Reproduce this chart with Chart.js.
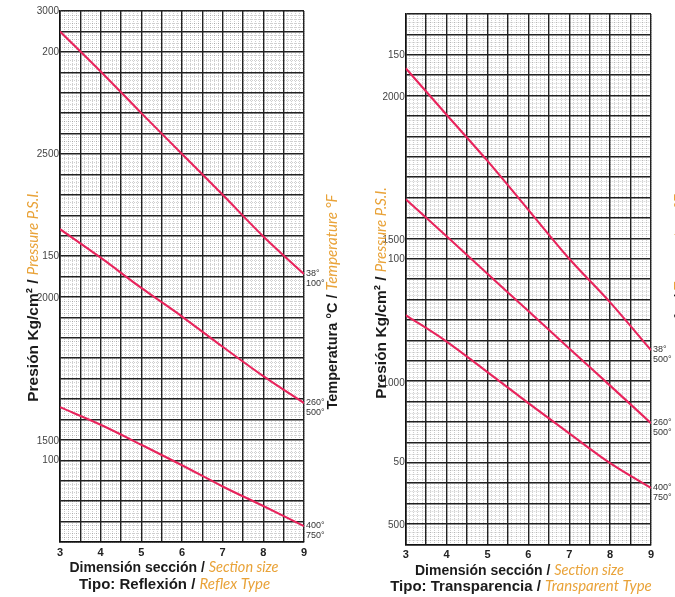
<!DOCTYPE html>
<html><head><meta charset="utf-8">
<script src="https://cdn.jsdelivr.net/npm/chart.js@4.4.1/dist/chart.umd.min.js"></script>
<style>
html,body{margin:0;padding:0;background:#fff;overflow:hidden;width:675px;height:597px;}
#c1{position:absolute;left:0;top:0;}
#c2{position:absolute;left:340px;top:0;}
</style></head><body>
<canvas id="c1" width="340" height="597"></canvas>
<canvas id="c2" width="350" height="597"></canvas>
<script>
// ---------- DATA ----------
const sectionSizes = [3, 4, 5, 6, 7, 8, 9];
const xRange = [3, 9];

// Reflex type (kg/cm²)
const reflex38  = [205, 195.2, 185, 175, 165, 154.8, 145.6];
const reflex260 = [156.6, 149.6, 142.2, 135.2, 127.8, 120.6, 114];
const reflex400 = [113, 108.7, 103.8, 98.8, 93.6, 88.8, 83.9];
const reflexEndLabels = [['38°', '100°'], ['260°', '500°'], ['400°', '750°']];
const reflexKgRange = [80, 210];
const reflexPsiRange = [1150, 3000];
const reflexKgTicks = [100, 150, 200];
const reflexPsiTicks = [1500, 2000, 2500, 3000];

// Transparent type (kg/cm²)
const transp38  = [146.7, 135.3, 124, 112, 100, 89.3, 77.6];
const transp260 = [114.6, 105.5, 96.3, 87.2, 78, 68.9, 59.7];
const transp400 = [86.2, 79.7, 72.2, 64.6, 57.2, 49.9, 43.8];
const transpEndLabels = [['38°', '500°'], ['260°', '500°'], ['400°', '750°']];
const transpKgRange = [30, 160];
const transpPsiRange = [434, 2292];
const transpKgTicks = [50, 100, 150];
const transpPsiTicks = [500, 1000, 1500, 2000];

// ---------- STYLE ----------
const ORANGE = '#E9A339';
const BLACK = '#1b1b1b';
const RED = '#E8245C';
const MAJOR = '#222';
const MINOR = 'rgba(0,0,0,0.27)';
const SANS = '"Liberation Sans", Arial, sans-serif';

function segs(black, orange, bSize, oSize) {
  return [
    {text: black, font: 'bold ' + bSize + 'px ' + SANS, color: BLACK},
    {text: orange, font: 'italic ' + oSize + 'px Lato, ' + SANS, color: ORANGE}
  ];
}

function drawMixed(ctx, s, cx, cy, rotate) {
  ctx.save();
  ctx.translate(cx, cy);
  if (rotate) ctx.rotate(-Math.PI / 2);
  ctx.textAlign = 'left';
  ctx.textBaseline = 'alphabetic';
  let total = 0;
  s.forEach(p => { ctx.font = p.font; p.w = ctx.measureText(p.text).width; total += p.w; });
  let x = -total / 2;
  s.forEach(p => { ctx.font = p.font; ctx.fillStyle = p.color; ctx.fillText(p.text, x, 0); x += p.w; });
  ctx.restore();
}

const textPlugin = {
  id: 'texts',
  afterDraw(chart, args, o) {
    const ctx = chart.ctx, a = chart.chartArea;
    chart.data.datasets.forEach((ds, i) => {
      const meta = chart.getDatasetMeta(i);
      const p = meta.data[meta.data.length - 1];
      const lines = o.endLabels[i];
      ctx.save();
      ctx.font = '9px ' + SANS;
      ctx.fillStyle = '#333';
      ctx.textAlign = 'left';
      ctx.textBaseline = 'alphabetic';
      ctx.fillText(lines[0], a.right + 2, p.y + 2);
      ctx.fillText(lines[1], a.right + 2, p.y + 12);
      ctx.restore();
    });
    o.texts.forEach(t => drawMixed(ctx, t.segs, t.x, t.y, t.rot));
  }
};

function makeChart(id, W, H, area, series, kgR, psiR, kgT, psiT, pluginOpts) {
  const majorX = s => { const t = []; for (let i = 0; i <= (xRange[1] - xRange[0]) * 2; i++) t.push({value: xRange[0] + i * 0.5}); s.ticks = t; };
  const minorX = s => { const t = []; for (let i = 0; i <= (xRange[1] - xRange[0]) * 10; i++) t.push({value: xRange[0] + i / 10}); s.ticks = t; };
  const minorY = s => { const t = []; for (let v = kgR[0]; v <= kgR[1]; v++) t.push({value: v}); s.ticks = t; };
  const majorY = s => {
    const t = [];
    for (let v = kgR[0]; v <= kgR[1]; v += 5) t.push({value: v, g: true, txt: kgT.includes(v) ? String(v) : ''});
    psiT.forEach(p => t.push({value: kgR[0] + (p - psiR[0]) * (kgR[1] - kgR[0]) / (psiR[1] - psiR[0]), g: false, txt: String(p)}));
    s.ticks = t;
  };
  const datasets = series.map(ys => ({
    type: 'line',
    data: sectionSizes.map((x, i) => ({x: x, y: ys[i]})),
    borderColor: RED, borderWidth: 2.1, pointRadius: 0, fill: false,
    cubicInterpolationMode: 'monotone',
    xAxisID: 'x', yAxisID: 'y'
  }));
  return new Chart(document.getElementById(id), {
    type: 'line',
    data: {datasets},
    options: {
      responsive: false, animation: false, devicePixelRatio: 1,
      layout: {padding: {left: 0, top: area.top, right: W - area.right, bottom: 0}},
      plugins: {legend: {display: false}, tooltip: {enabled: false}, texts: pluginOpts},
      scales: {
        xMinor: {
          type: 'linear', position: 'top', min: xRange[0], max: xRange[1],
          afterBuildTicks: minorX, afterFit: s => { s.height = 0; },
          ticks: {display: false}, border: {display: false, dash: [1, 1]},
          grid: {color: MINOR, lineWidth: 0.7, drawTicks: false, z: -2}
        },
        yMinor: {
          type: 'linear', position: 'right', min: kgR[0], max: kgR[1],
          afterBuildTicks: minorY, afterFit: s => { s.width = 0; },
          ticks: {display: false}, border: {display: false, dash: [1, 1]},
          grid: {color: MINOR, lineWidth: 0.7, drawTicks: false, z: -2}
        },
        x: {
          type: 'linear', position: 'bottom', min: xRange[0], max: xRange[1],
          afterBuildTicks: majorX, afterFit: s => { s.height = H - area.bottom; },
          ticks: {autoSkip: false, maxRotation: 0, padding: 4, color: '#222',
                  font: {family: SANS, size: 11, weight: 'bold'},
                  callback: v => Number.isInteger(v) ? String(v) : ''},
          border: {display: true, color: '#111', width: 1.6},
          grid: {color: MAJOR, lineWidth: 1.4, drawTicks: false, z: -1}
        },
        y: {
          type: 'linear', position: 'left', min: kgR[0], max: kgR[1],
          afterBuildTicks: majorY, afterFit: s => { s.width = area.left; },
          ticks: {autoSkip: false, padding: 1, color: '#444',
                  font: {family: SANS, size: 10},
                  callback: (v, i, ticks) => ticks[i].txt},
          border: {display: true, color: '#111', width: 1.6},
          grid: {drawTicks: false, z: -1,
                 color: c => (c.tick && c.tick.g) ? MAJOR : 'rgba(0,0,0,0)',
                 lineWidth: c => (c.tick && c.tick.g) ? 1.4 : 0}
        }
      }
    },
    plugins: [textPlugin]
  });
}

makeChart('c1', 340, 597, {left: 60, right: 304, top: 11, bottom: 542},
  [reflex38, reflex260, reflex400], reflexKgRange, reflexPsiRange, reflexKgTicks, reflexPsiTicks,
  {endLabels: reflexEndLabels, texts: [
    {segs: segs('Presión Kg/cm² / ', 'Pressure P.S.I.', 15.5, 15), x: 38, y: 296, rot: true},
    {segs: segs('Temperatura °C / ', 'Temperature °F', 14.5, 15), x: 337, y: 302, rot: true},
    {segs: segs('Dimensión sección / ', 'Section size', 14, 14.5), x: 174, y: 571.5, rot: false},
    {segs: segs('Tipo: Reflexión / ', 'Reflex Type', 15, 15), x: 174.5, y: 589, rot: false}
  ]});

makeChart('c2', 350, 597, {left: 65.7, right: 311, top: 14, bottom: 544.3},
  [transp38, transp260, transp400], transpKgRange, transpPsiRange, transpKgTicks, transpPsiTicks,
  {endLabels: transpEndLabels, texts: [
    {segs: segs('Presión Kg/cm² / ', 'Pressure P.S.I.', 15.5, 15), x: 46, y: 293, rot: true},
    {segs: segs('Temperatura °C / ', 'Temperature °F', 14.5, 15), x: 345, y: 302, rot: true},
    {segs: segs('Dimensión sección / ', 'Section size', 14, 14.5), x: 179.5, y: 574.5, rot: false},
    {segs: segs('Tipo: Transparencia / ', 'Transparent Type', 15, 15), x: 181, y: 590.5, rot: false}
  ]});
</script>
</body></html>
